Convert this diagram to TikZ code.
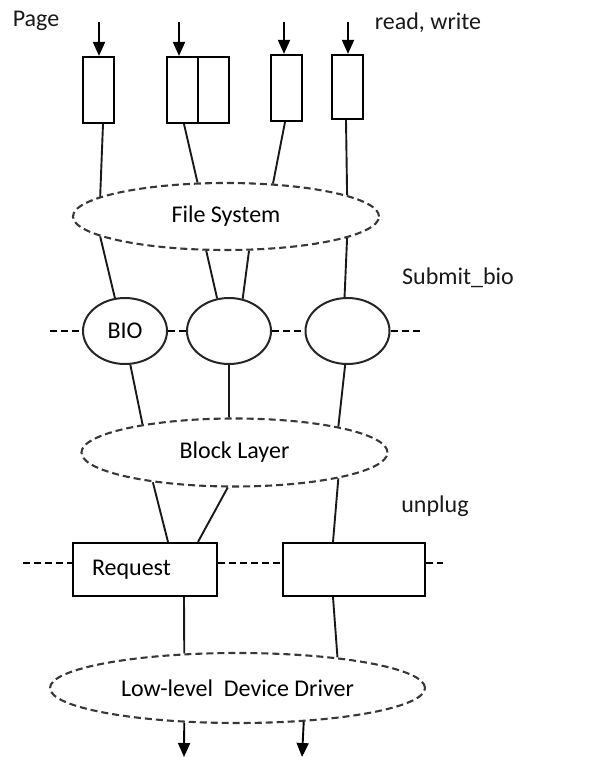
\documentclass[tikz,border=0pt]{standalone}
\usepackage{fontspec}
\setmainfont{Carlito}
\usetikzlibrary{arrows.meta,shapes.geometric,calc}
\begin{document}
\begin{tikzpicture}[x=1pt,y=-1pt,
  font=\fontsize{24}{27}\selectfont,
  pagebox/.style={draw=black,line width=2.2pt,minimum width=31pt,inner sep=0pt},
  layer/.style={ellipse,draw=black!78,line width=2.1pt,dash pattern=on 7pt off 4pt,inner sep=0pt},
  bio/.style={ellipse,draw=black!85,line width=2pt,minimum width=84pt,minimum height=66pt,inner sep=0pt},
  rq/.style={draw=black,line width=2.2pt,minimum height=53pt,inner sep=0pt},
  conn/.style={draw=black!90,line width=1.9pt},
  row/.style={draw=black,line width=1.9pt,dash pattern=on 7pt off 4pt},
  arr/.style={draw=black,line width=1.9pt,-{Triangle[length=14pt,width=12pt]}},
  lbl/.style={inner sep=0pt,text=black!90}]
\useasboundingbox (0,0) rectangle (614,757);

% labels
\node[lbl] (page) at (36,21) {Page};
\node[lbl] (rw) at (428,23) {read, write};
\node[lbl] (sb) at (458,278) {Submit\_bio};
\node[lbl] (up) at (435,506) {unplug};

% page boxes
\node[pagebox,minimum height=66pt] (b1) at (98.5,90) {};
\node[pagebox,minimum height=66pt] (b2a) at (182.5,90) {};
\node[pagebox,minimum height=66pt] (b2b) at (213.5,90) {};
\node[pagebox,minimum height=66pt] (b3) at (286.5,88) {};
\node[pagebox,minimum height=64pt] (b4) at (347.5,87) {};

% incoming arrows
\coordinate (a1) at (99,22);
\coordinate (a2) at (179,22);
\coordinate (a3) at (284,22);
\coordinate (a4) at (348,22);
\draw[arr] (a1) -- (a1 |- b1.north);
\draw[arr] (a2) -- (a2 |- b2a.north);
\draw[arr] (a3) -- (a3 |- b3.north);
\draw[arr] (a4) -- (a4 |- b4.north);

% file system
\node[layer,minimum width=306pt,minimum height=67pt] (fs) at (226,216.5) {File System};

\draw[conn] ([xshift=4.5pt]b1.south) -- (fs.171.2);
\draw[conn] ([xshift=1.5pt]b2a.south) -- (fs.130.4);
\draw[conn] ([xshift=-1.5pt]b3.south) -- (fs.35.4);
\draw[conn] ([xshift=-1.5pt]b4.south) -- (fs.10.5);

% bio row
\node[bio] (bio1) at (125,331) {BIO};
\node[bio] (bio2) at (229,331) {};
\node[bio] (bio3) at (347.5,331) {};
\coordinate (r1) at (50,331);
\coordinate (r2) at (420,331);
\draw[row] (r1) -- (bio1.west);
\draw[row] (bio1.east) -- (bio2.west);
\draw[row] (bio2.east) -- (bio3.west);
\draw[row] (bio3.east) -- (r2);

\draw[conn] (fs.189) -- (bio1.107.3);
\draw[conn] (fs.240.2) -- (bio2.110.8);
\draw[conn] (fs.-56.4) -- (bio2.67.5);
\draw[conn] (fs.-10.6) -- (bio3.95.2);

% block layer
\node[layer,minimum width=306pt,minimum height=68pt] (bl) at (234.5,452.5) {Block Layer};

\draw[conn] (bio1.-81.3) -- (bl.163.6);
\draw[conn] (bio2.south) -- (bl.99.1);
\draw[conn] (bio3.-94.3) -- (bl.14.6);

% request row
\node[rq,minimum width=144pt,text width=106pt,inner xsep=19pt,align=left] (req) at (145,569.5) {Request};
\node[rq,minimum width=142pt] (rq2) at (354,569.5) {};
\coordinate (d1) at (23,563);
\coordinate (d2) at (443,563);
\draw[row] (d1) -- (d1 -| req.west);
\draw[row] (d1 -| req.east) -- (d1 -| rq2.west);
\draw[row] (d1 -| rq2.east) -- (d2);

\draw[conn] (bl.-160.5) -- ([xshift=23pt]req.north);
\draw[conn] (bl.-101.3) -- ([xshift=53pt]req.north);
\draw[conn] (bl.-14.9) -- ([xshift=-21pt]rq2.north);

% low-level device driver
\node[layer,minimum width=375pt,minimum height=70pt] (ll) at (237.5,688) {Low-level\ \ Device Driver};

\draw[conn] ([xshift=39pt]req.south) -- (ll.147.9);
\draw[conn] ([xshift=-21pt]rq2.south) -- (ll.17.5);

% outgoing arrows
\coordinate (o1) at (184,757);
\coordinate (o2) at (302,757);
\draw[arr] (ll.-147.9) -- (o1);
\draw[arr] (ll.-27.0) -- (o2);
\end{tikzpicture}
\end{document}
